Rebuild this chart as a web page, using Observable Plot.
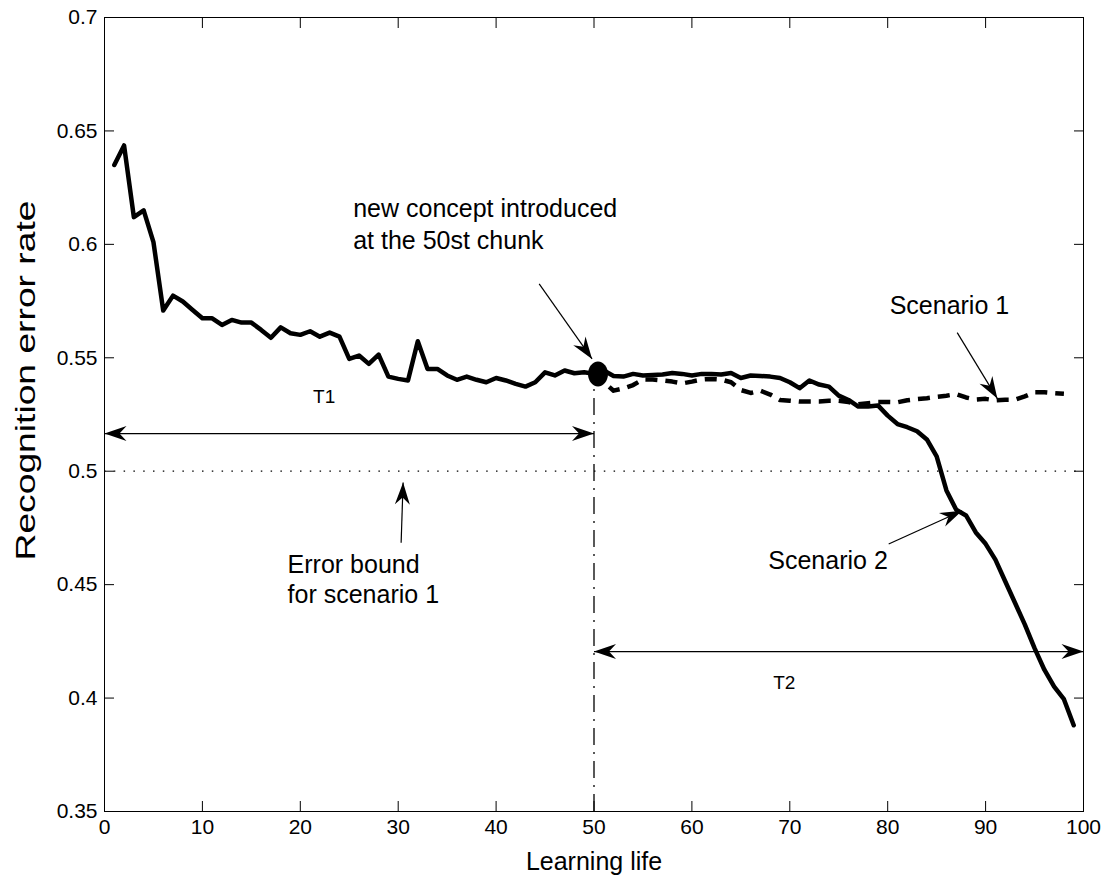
<!DOCTYPE html>
<html>
<head>
<meta charset="utf-8">
<script src="https://cdn.jsdelivr.net/npm/d3@7"></script>
<script src="https://cdn.jsdelivr.net/npm/@observablehq/plot@0.6"></script>
<style>
  body { margin: 0; background: #fff; }
  #chart svg { display: block; }
</style>
</head>
<body>
<div id="chart"></div>
<script>
// Scenario 2 (solid): recognition error rate for chunks 1..99
const scenario2 = [
  0.635, 0.6436, 0.612, 0.615, 0.601, 0.5708, 0.5774, 0.5748, 0.5711, 0.5674,
  0.5674, 0.5645, 0.5667, 0.5655, 0.5655, 0.5623, 0.5588, 0.5634, 0.5608, 0.5601,
  0.5617, 0.5593, 0.5611, 0.5593, 0.5495, 0.551, 0.5473, 0.5514, 0.5417, 0.5407,
  0.540, 0.5573, 0.5451, 0.5451, 0.5422, 0.5403, 0.5417, 0.5403, 0.5392, 0.5411,
  0.540, 0.5385, 0.5373, 0.5392, 0.5436, 0.5422, 0.5444, 0.5432, 0.5436, 0.5429,
  0.5444, 0.542, 0.5417, 0.5429, 0.5422, 0.5424, 0.5426, 0.5433, 0.5429, 0.5422,
  0.5429, 0.5429, 0.5426, 0.5433, 0.5411, 0.5422, 0.542, 0.5417, 0.5411, 0.5392,
  0.5366, 0.540, 0.5382, 0.5373, 0.5333, 0.5314, 0.5285, 0.5285, 0.529, 0.5245,
  0.5208, 0.5194, 0.5176, 0.514, 0.5065, 0.4915, 0.483, 0.4805, 0.473, 0.468,
  0.461, 0.4515, 0.442, 0.4325, 0.422, 0.4125, 0.405, 0.3995, 0.388
];
const scenario2Start = 1;

// Scenario 1 (dashed): chunks 50..98
const scenario1 = [
  0.5429, 0.5392, 0.5355, 0.5365, 0.538, 0.5405, 0.5404, 0.540, 0.5395, 0.5387,
  0.5395, 0.5404, 0.5407, 0.5404, 0.5392, 0.5358, 0.5345, 0.5355, 0.5338, 0.5314,
  0.5311, 0.5307, 0.5307, 0.5307, 0.5311, 0.5311, 0.5305, 0.5295, 0.530, 0.5305,
  0.5305, 0.5304, 0.5313, 0.5318, 0.5322, 0.5328, 0.5333, 0.534, 0.5325, 0.5316,
  0.5319, 0.5312, 0.5315, 0.5315, 0.533, 0.5348, 0.5348, 0.5344, 0.5341
];
const scenario1Start = 50;

// New concept point
const conceptChunk = [50];
const conceptValue = [0.5429];

const errorBound = [0.5];

const xTicks = [0, 10, 20, 30, 40, 50, 60, 70, 80, 90, 100];
const xTickLabels = ["0", "10", "20", "30", "40", "50", "60", "70", "80", "90", "100"];
const yTicks = [0.35, 0.4, 0.45, 0.5, 0.55, 0.6, 0.65, 0.7];
const yTickLabels = ["0.35", "0.4", "0.45", "0.5", "0.55", "0.6", "0.65", "0.7"];

const xLabel = "Learning life";
const yLabel = "Recognition error rate";

// Annotation texts (data coordinates of the baseline start)
const annoTexts = ["new concept introduced", "at the 50st chunk", "Scenario 1", "Scenario 2", "Error bound", "for scenario 1"];
const annoX = [25.4, 25.4, 80.2, 67.8, 18.7, 18.7];
const annoY = [0.612, 0.598, 0.5695, 0.4571, 0.4553, 0.4421];

const periodTexts = ["T1", "T2"];
const periodX = [21.3, 68.3];
const periodY = [0.5302, 0.4041];

// Single arrows: from (x1,y1) to tip (x2,y2)
const arrowX1 = [44.4, 87.1, 80.1, 30.3];
const arrowY1 = [0.5826, 0.5611, 0.4679, 0.4685];
const arrowX2 = [49.8, 91.2, 87.6, 30.5];
const arrowY2 = [0.5495, 0.532, 0.4826, 0.495];

// Double arrows (periods T1, T2)
const spanX1 = [0, 50];
const spanX2 = [50, 100];
const spanY = [0.5166, 0.4205];

// ---------- build ----------
const W = 1101, H = 879, MT = 17, MB = 68, ML = 104, MR = 18;
const FONT = "'Liberation Sans', Arial, Helvetica, sans-serif";

const s2 = scenario2.map((v, i) => ({x: scenario2Start + i, y: v}));
const s1 = scenario1.map((v, i) => ({x: scenario1Start + i, y: v}));

const arrows = arrowX1.map((d, i) => ({x1: arrowX1[i], y1: arrowY1[i], x2: arrowX2[i], y2: arrowY2[i]}));
spanX1.forEach((d, i) => {
  arrows.push({x1: spanX1[i], y1: spanY[i], x2: spanX2[i], y2: spanY[i], both: true});
});

const sx = d3.scaleLinear([0, 100], [ML, W - MR]);
const sy = d3.scaleLinear([0.35, 0.7], [H - MB, MT]);
const heads = [];
for (const a of arrows) {
  const ang = Math.atan2(sy(a.y2) - sy(a.y1), sx(a.x2) - sx(a.x1)) * 180 / Math.PI;
  heads.push({x: a.x2, y: a.y2, r: ang + 90});
  if (a.both) heads.push({x: a.x1, y: a.y1, r: ang - 90});
}

const headSymbol = {
  draw(ctx) {
    ctx.moveTo(0, 0);
    ctx.lineTo(7.5, 22);
    ctx.lineTo(0, 15);
    ctx.lineTo(-7.5, 22);
    ctx.closePath();
  }
};
const ellipseSymbol = {
  draw(ctx) {
    const rx = 10, ry = 12.5, k = 0.5523;
    ctx.moveTo(rx, 0);
    ctx.bezierCurveTo(rx, ry * k, rx * k, ry, 0, ry);
    ctx.bezierCurveTo(-rx * k, ry, -rx, ry * k, -rx, 0);
    ctx.bezierCurveTo(-rx, -ry * k, -rx * k, -ry, 0, -ry);
    ctx.bezierCurveTo(rx * k, -ry, rx, -ry * k, rx, 0);
    ctx.closePath();
  }
};

const texts = annoTexts.map((t, i) => ({t, x: annoX[i], y: annoY[i]}));
const ptexts = periodTexts.map((t, i) => ({t, x: periodX[i], y: periodY[i]}));

const chart = Plot.plot({
  width: W,
  height: H,
  marginTop: MT,
  marginBottom: MB,
  marginLeft: ML,
  marginRight: MR,
  style: {fontFamily: FONT, background: "#fff", color: "#000"},
  x: {domain: [0, 100]},
  y: {domain: [0.35, 0.7]},
  marks: [
    Plot.frame({stroke: "#000", strokeWidth: 1}),
    Plot.axisX({anchor: "bottom", ticks: xTicks, tickSize: -10, tickPadding: 18, fontSize: 21,
      tickFormat: d => xTickLabels[xTicks.indexOf(d)], label: null}),
    Plot.axisX({anchor: "top", ticks: xTicks, tickSize: -10, tickFormat: () => "", label: null}),
    Plot.axisY({anchor: "left", ticks: yTicks, tickSize: -10, tickPadding: 17, fontSize: 21,
      tickFormat: d => yTickLabels[yTicks.indexOf(d)], label: null}),
    Plot.axisY({anchor: "right", ticks: yTicks, tickSize: -10, tickFormat: () => "", label: null}),
    // error bound dotted line
    Plot.ruleY(errorBound, {stroke: "#000", strokeWidth: 1.2, strokeDasharray: "1.5,8.3"}),
    // vertical dash-dot at the concept chunk
    Plot.ruleX(conceptChunk, {y1: 0.35, y2: conceptValue[0], stroke: "#000", strokeWidth: 1.3, strokeDasharray: "17,7,2,7"}),
    // series
    Plot.line(s1, {x: "x", y: "y", stroke: "#000", strokeWidth: 4.5, strokeDasharray: "12,8", strokeLinecap: "butt", strokeLinejoin: "round"}),
    Plot.line(s2, {x: "x", y: "y", stroke: "#000", strokeWidth: 4.5, strokeLinejoin: "round"}),
    Plot.dot(conceptChunk, {x: d => d, y: () => conceptValue[0], symbol: ellipseSymbol, fill: "#000", stroke: "none", dx: 4}),
    // arrows
    Plot.link(arrows, {x1: "x1", y1: "y1", x2: "x2", y2: "y2", stroke: "#000", strokeWidth: 1.2}),
    Plot.dot(heads, {x: "x", y: "y", rotate: "r", symbol: headSymbol, fill: "#000", stroke: "none"}),
    // texts
    Plot.text(texts, {x: "x", y: "y", text: "t", textAnchor: "start", lineAnchor: "bottom", fontSize: 25, fill: "#000"}),
    Plot.text(ptexts, {x: "x", y: "y", text: "t", textAnchor: "start", lineAnchor: "bottom", fontSize: 19, fill: "#000"}),
    // axis labels
    Plot.text([xLabel], {frameAnchor: "bottom", dy: 58, lineAnchor: "bottom", fontSize: 25, fill: "#000"}),
    Plot.text([yLabel], {frameAnchor: "left", dx: -70, dy: -34, rotate: -90, textAnchor: "middle", lineAnchor: "bottom", fontSize: 27, fill: "#000"})
  ]
});
// the y label in the reference is drawn elongated along its length
for (const t of chart.querySelectorAll("text")) {
  if (t.textContent === yLabel) {
    t.setAttribute("textLength", "360");
    t.setAttribute("lengthAdjust", "spacingAndGlyphs");
  }
}
document.getElementById("chart").appendChild(chart);
</script>
</body>
</html>
